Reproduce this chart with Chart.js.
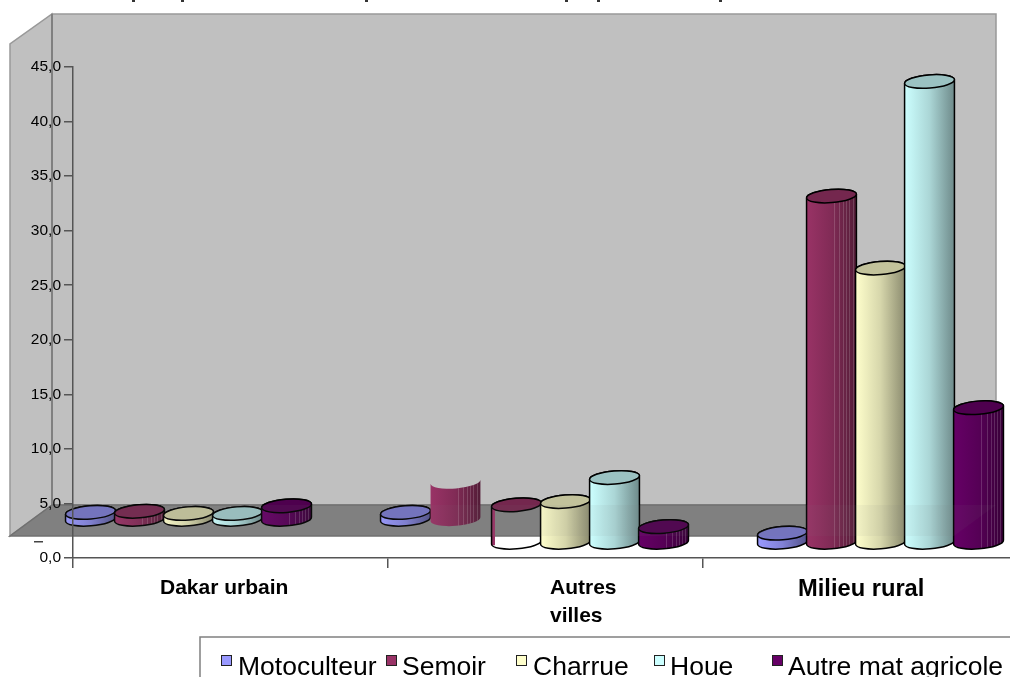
<!DOCTYPE html>
<html>
<head>
<meta charset="utf-8">
<title>Matériel agricole</title>
<script src="https://cdn.jsdelivr.net/npm/chart.js@4/dist/chart.umd.min.js"></script>
<style>
  html, body { margin: 0; padding: 0; background: #fff; overflow: hidden; }
  canvas { display: block; }
</style>
</head>
<body>
<canvas id="chart" width="1030" height="677"></canvas>
<script>
const categories = ['Dakar urbain', ['Autres', 'villes'], 'Milieu rural'];
const seriesNames = ['Motoculteur', 'Semoir', 'Charrue', 'Houe', 'Autre mat agricole'];
const motoculteur = [0.7, 0.7, 0.9];
const semoir = [0.8, 3.5, 31.8];
const charrue = [0.6, 3.8, 25.2];
const houe = [0.6, 6.0, 42.3];
const autreMat = [1.3, 1.5, 12.4];
const yTicks = [0, 5, 10, 15, 20, 25, 30, 35, 40, 45];

const seriesValues = [motoculteur, semoir, charrue, houe, autreMat];
const seriesColors = [[153, 153, 255], [153, 51, 102], [255, 255, 204], [204, 255, 255], [102, 0, 102]];

const FONT = '"Liberation Sans", Arial, sans-serif';

// the 3D projection of the source picture is not the same left and right of the seam
const leftShift = { dx: -42, dy: -38 };
const rightShift = { dx: 20, dy: -15 };
const seamX = 470;
// this one is broken in the source: body on the left, outline on the right
const brokenBar = { series: 1, group: 1 };

function shade(rgb, f) {
  return 'rgb(' + rgb.map(c => Math.round(c * f)).join(',') + ')';
}

function tiltedEllipse(ctx, x, y, rx, start, end, back) {
  ctx.ellipse(x, y, rx, 6.6, -0.08, start, end, back);
}

function bodyPath(ctx, x, top, bottom, rx) {
  ctx.beginPath();
  tiltedEllipse(ctx, x, bottom, rx, 0, Math.PI);
  tiltedEllipse(ctx, x, top, rx, Math.PI, Math.PI * 2);
  ctx.closePath();
}

function fillBody(ctx, x, top, bottom, rx, rgb, openTop) {
  const grad = ctx.createLinearGradient(x - rx, 0, x + rx, 0);
  grad.addColorStop(0, shade(rgb, 1));
  grad.addColorStop(0.5, shade(rgb, 0.84));
  grad.addColorStop(1, shade(rgb, 0.54));
  ctx.save();
  if (openTop) {
    // no cap on it: the upper edge follows the front of the ellipse
    ctx.beginPath();
    tiltedEllipse(ctx, x, bottom, rx, 0, Math.PI);
    tiltedEllipse(ctx, x, top, rx, Math.PI, 0, true);
    ctx.closePath();
  } else {
    bodyPath(ctx, x, top, bottom, rx);
  }
  ctx.fillStyle = grad;
  ctx.fill();
  ctx.clip();
  // thin lighter stripes from the rendering of the original, they only show on the dark ones
  if (rgb[1] < 100) {
    ctx.strokeStyle = 'rgba(255,255,255,0.16)';
    ctx.lineWidth = 1;
    [0.55, 0.66, 0.74, 0.8, 0.86, 0.93].forEach(f => {
      const sx = Math.round(x - rx + f * 2 * rx) + 0.5;
      ctx.beginPath();
      ctx.moveTo(sx, top - 10);
      ctx.lineTo(sx, bottom + 10);
      ctx.stroke();
    });
  }
  ctx.restore();
}

function drawCap(ctx, x, top, rx, rgb) {
  ctx.beginPath();
  tiltedEllipse(ctx, x, top, rx, 0, Math.PI * 2);
  ctx.fillStyle = shade(rgb, 0.76);
  ctx.fill();
  ctx.lineWidth = 1.5;
  ctx.strokeStyle = '#000';
  ctx.stroke();
}

function floorPath(ctx) {
  ctx.beginPath();
  ctx.moveTo(52, 505);
  ctx.lineTo(996, 505);
  ctx.lineTo(954, 536);
  ctx.lineTo(10, 536);
  ctx.closePath();
}

const wallsPlugin = {
  id: 'walls',
  beforeDraw(chart) {
    const ctx = chart.ctx;
    ctx.save();
    ctx.fillStyle = '#c0c0c0';
    ctx.strokeStyle = '#999';
    ctx.lineWidth = 1.5;
    ctx.fillRect(52, 14, 944, 491);
    ctx.strokeRect(52, 14, 944, 491);
    ctx.beginPath();
    ctx.moveTo(10, 536);
    ctx.lineTo(10, 44);
    ctx.lineTo(52, 14);
    ctx.lineTo(52, 505);
    ctx.closePath();
    ctx.fill();
    ctx.stroke();
    ctx.strokeStyle = '#808080';
    ctx.lineWidth = 2;
    ctx.beginPath();
    ctx.moveTo(52, 14);
    ctx.lineTo(52, 505);
    ctx.stroke();
    floorPath(ctx);
    ctx.fillStyle = '#808080';
    ctx.fill();
    ctx.strokeStyle = '#707070';
    ctx.lineWidth = 1.5;
    ctx.stroke();
    ctx.restore();
  }
};

const cylinderPlugin = {
  id: 'cylinders',
  afterDatasetsDraw(chart) {
    const ctx = chart.ctx;
    ctx.save();
    seriesValues.forEach((values, s) => {
      const rgb = seriesColors[s];
      chart.getDatasetMeta(s).data.forEach((bar, g) => {
        const rx = bar.width / 2 + 0.5;
        const broken = s === brokenBar.series && g === brokenBar.group;
        if (broken) {
          // body alone, without outline, then empty outline with its cap further right
          fillBody(ctx, bar.x + leftShift.dx + 1, bar.y + leftShift.dy, bar.base + leftShift.dy, rx, rgb, true);
          const x = bar.x + rightShift.dx, top = bar.y + rightShift.dy, bottom = bar.base + rightShift.dy;
          ctx.fillStyle = shade(rgb, 1);
          ctx.fillRect(x - rx, top, 3.5, bottom - top + 3);
          bodyPath(ctx, x, top, bottom, rx);
          ctx.lineWidth = 1.5;
          ctx.strokeStyle = '#000';
          ctx.stroke();
          drawCap(ctx, x, top, rx, rgb);
          return;
        }
        const shift = bar.x < seamX ? leftShift : rightShift;
        const x = bar.x + shift.dx, top = bar.y + shift.dy, bottom = bar.base + shift.dy;
        fillBody(ctx, x, top, bottom, rx, rgb);
        bodyPath(ctx, x, top, bottom, rx);
        ctx.lineWidth = 1.5;
        ctx.strokeStyle = '#000';
        ctx.stroke();
        drawCap(ctx, x, top, rx, rgb);
      });
    });
    // the floor shows a little through the tall columns
    floorPath(ctx);
    ctx.fillStyle = 'rgba(128,128,128,0.07)';
    ctx.fill();
    ctx.restore();
  }
};

// x labels are not centred in the source, Autres villes is left aligned
const labelLayout = [
  { x: 160, ys: [594], font: 'bold 21px ' + FONT },
  { x: 550, ys: [594, 622], font: 'bold 21px ' + FONT },
  { x: 798, ys: [596], font: 'bold 23.7px ' + FONT }
];
const legendLayout = [
  { box: 221, text: 238 },
  { box: 386, text: 402 },
  { box: 516, text: 533 },
  { box: 654, text: 670 },
  { box: 772, text: 788 }
];

const labelsPlugin = {
  id: 'labels',
  afterDraw(chart) {
    const ctx = chart.ctx;
    ctx.save();
    ctx.textBaseline = 'alphabetic';
    ctx.textAlign = 'left';
    ctx.fillStyle = '#000';
    categories.forEach((cat, i) => {
      const lines = [].concat(cat);
      ctx.font = labelLayout[i].font;
      lines.forEach((line, k) => ctx.fillText(line, labelLayout[i].x, labelLayout[i].ys[k]));
    });

    // stray dash on the y axis
    ctx.fillStyle = '#444';
    ctx.fillRect(34, 541, 9, 1.5);

    // bottoms of the title, cut off by the top of the picture
    ctx.fillStyle = '#333';
    [132, 181, 365, 565, 597, 719].forEach(x => ctx.fillRect(x, 0, 3, 2));

    // legend box runs out of the picture on the right and bottom
    ctx.strokeStyle = '#808080';
    ctx.lineWidth = 1.5;
    ctx.beginPath();
    ctx.moveTo(200, 680);
    ctx.lineTo(200, 637);
    ctx.lineTo(1030, 637);
    ctx.stroke();
    ctx.font = '26.5px ' + FONT;
    seriesNames.forEach((name, i) => {
      const pos = legendLayout[i];
      ctx.fillStyle = shade(seriesColors[i], 1);
      ctx.fillRect(pos.box, 656, 10, 10);
      ctx.strokeStyle = '#222';
      ctx.lineWidth = 1;
      ctx.strokeRect(pos.box + 0.5, 655.5, 10, 10);
      ctx.fillStyle = '#000';
      ctx.fillText(name, pos.text, 675);
    });
    ctx.restore();
  }
};

new Chart(document.getElementById('chart'), {
  type: 'bar',
  data: {
    labels: categories,
    datasets: seriesNames.map((name, i) => ({
      label: name,
      data: seriesValues[i],
      backgroundColor: 'rgba(0,0,0,0)',
      borderWidth: 0
    }))
  },
  options: {
    responsive: false,
    animation: false,
    categoryPercentage: 0.778,
    barPercentage: 1,
    layout: { padding: { top: 67, right: 12, left: 0, bottom: 0 } },
    plugins: {
      legend: { display: false },
      tooltip: { enabled: false },
      title: { display: false }
    },
    scales: {
      x: {
        afterFit(scale) { scale.height = 119; },
        ticks: { display: false },
        grid: { drawOnChartArea: false, tickLength: 10, color: '#555', lineWidth: 1.5 },
        border: { color: '#555', width: 1.5, z: 1 }
      },
      y: {
        min: 0,
        max: 45,
        afterFit(scale) { scale.width = 73; },
        afterBuildTicks(scale) { scale.ticks = yTicks.map(v => ({ value: v })); },
        ticks: {
          padding: 3,
          color: '#000',
          font: { family: FONT, size: 15.5 },
          callback: v => v.toFixed(1).replace('.', ',')
        },
        grid: { drawOnChartArea: false, tickLength: 9, color: '#555', lineWidth: 1.5 },
        border: { color: '#555', width: 1.5, z: 1 }
      }
    }
  },
  plugins: [wallsPlugin, cylinderPlugin, labelsPlugin]
});
</script>
</body>
</html>
